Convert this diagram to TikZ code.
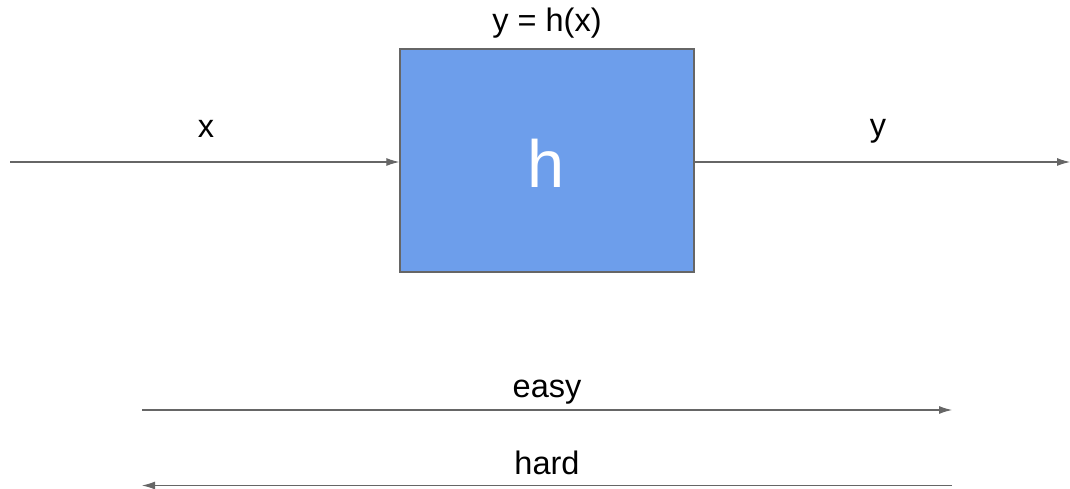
\documentclass[tikz,border=0pt]{standalone}
\usepackage{fontspec}
\setmainfont{Liberation Sans}
\usetikzlibrary{arrows.meta}
\definecolor{boxblue}{HTML}{6D9EEB}
\definecolor{linegray}{HTML}{666666}
\tikzset{
  flow/.style={draw=linegray, line width=0.6pt, -{Latex[length=2.6mm,width=1.6mm]}},
  lbl/.style={font=\fontsize{18.5}{22}\selectfont},
}
\begin{document}
\begin{tikzpicture}
\useasboundingbox (0,0) rectangle (21.4,9.76);
\node[draw=linegray, line width=0.8pt, fill=boxblue, minimum width=5.88cm, minimum height=4.46cm, inner sep=0pt] (box) at (10.94,6.55) {};
\node[text=white, font=\fontsize{38}{42}\selectfont] (hname) at (10.92,6.50) {h};
\node[lbl] (func) at (10.94,9.30) {y = h(x)};
\coordinate (in) at (0.2,6.52);
\coordinate (out) at (21.4,6.52);
\draw[flow] (in) -- (box.west |- in);
\draw[flow] (box.east |- out) -- (out);
\node[lbl] (xlbl) at (4.12,7.18) {x};
\node[lbl] (ylbl) at (17.56,7.14) {y};
% directions
\coordinate (eL) at (2.84,1.56);
\coordinate (eR) at (19.04,1.56);
\coordinate (hL) at (2.84,0.05);
\coordinate (hR) at (19.04,0.05);
\draw[flow] (eL) -- (eR);
\draw[flow] (hR) -- (hL);
\node[lbl] (easy) at (10.94,1.92) {easy};
\node[lbl] (hard) at (10.94,0.50) {hard};
\end{tikzpicture}
\end{document}
